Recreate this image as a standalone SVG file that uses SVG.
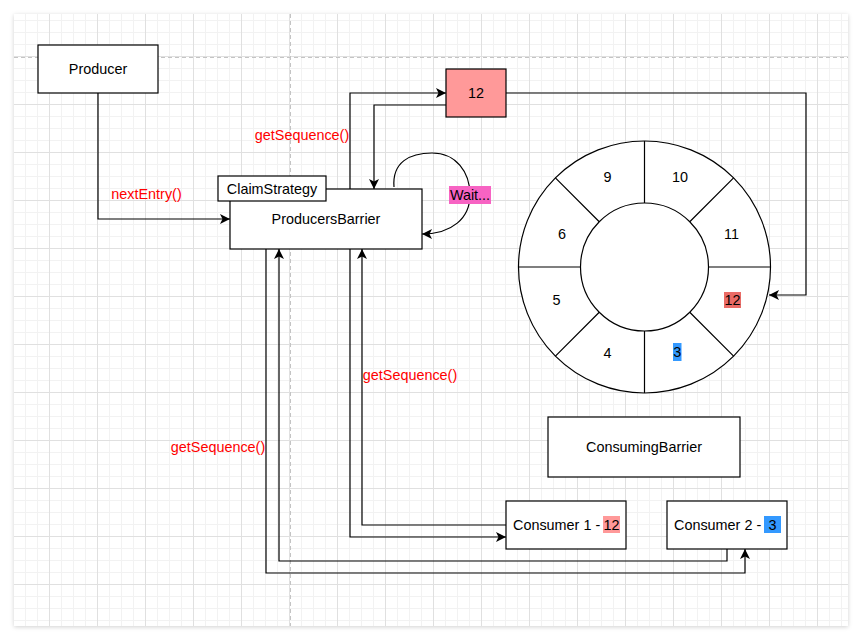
<svg xmlns="http://www.w3.org/2000/svg" width="862" height="640" viewBox="0 0 862 640">
  <style>
    .box { fill: #ffffff; stroke: #000000; stroke-width: 1.2; }
    .t { font-family: "Liberation Sans", Arial, Helvetica, sans-serif; font-size: 14.4px; fill: #000000; }
    .red { fill: #ff0000; }
    .edge { fill: none; stroke: #000000; stroke-width: 1.2; }
    .ring { fill: none; stroke: #000000; stroke-width: 1.2; }
  </style>
  <defs>
    <filter id="shadow" x="-5%" y="-5%" width="110%" height="110%">
      <feDropShadow dx="0" dy="1" stdDeviation="2" flood-color="#000000" flood-opacity="0.18"/>
    </filter>
    <pattern id="grid" patternUnits="userSpaceOnUse" x="1" y="8" width="48" height="48">
      <path d="M12.5,0 V48 M24.5,0 V48 M36.5,0 V48 M0,12.5 H48 M0,24.5 H48 M0,36.5 H48" stroke="#f2f2f2" stroke-width="1" fill="none"/>
      <path d="M0.5,0 V48 M0,0.5 H48" stroke="#e0e0e0" stroke-width="1" fill="none"/>
    </pattern>
    <marker id="arr" markerUnits="userSpaceOnUse" orient="auto" markerWidth="10" markerHeight="10" viewBox="0 0 10 10" refX="10" refY="5">
      <path d="M0,0 L10,5 L0,10 L2.5,5 Z" fill="#000000"/>
    </marker>
  </defs>

  <rect x="0" y="0" width="862" height="640" fill="#ffffff"/>
  <rect x="14" y="14" width="834" height="612" fill="#ffffff" filter="url(#shadow)"/>
  <rect x="14" y="14" width="834" height="612" fill="url(#grid)"/>
  <path d="M14,57.5 H848" stroke="#c4c4c4" stroke-width="1" stroke-dasharray="4 3"/>
  <path d="M290.5,14 V626" stroke="#c4c4c4" stroke-width="1" stroke-dasharray="4 3"/>

  <g id="connectors">
    <path class="edge" d="M98,93 V219 H230" marker-end="url(#arr)"/>
    <path class="edge" d="M350,189 V93 H446" marker-end="url(#arr)"/>
    <path class="edge" d="M446,105 H374 V189" marker-end="url(#arr)"/>
    <path class="edge" d="M394,187 C392,162 410,153 432,153 C456,153 470,172 470,195 C470,218 452,234 422,234" marker-end="url(#arr)"/>
    <path class="edge" d="M506,93 H806 V295 H769" marker-end="url(#arr)"/>
    <path class="edge" d="M506,525 H362 V249" marker-end="url(#arr)"/>
    <path class="edge" d="M350,249 V537 H506" marker-end="url(#arr)"/>
    <path class="edge" d="M727,549 V561 H279 V249" marker-end="url(#arr)"/>
    <path class="edge" d="M266,249 V573 H745 V549" marker-end="url(#arr)"/>
    <text class="t red" x="146.5" y="199" text-anchor="middle">nextEntry()</text>
    <text class="t red" x="302" y="140" text-anchor="middle">getSequence()</text>
    <text class="t red" x="410" y="380" text-anchor="middle">getSequence()</text>
    <text class="t red" x="218" y="452" text-anchor="middle">getSequence()</text>
    <rect x="449" y="186" width="42" height="18" fill="#f763c3"/>
    <text class="t" x="470" y="200" text-anchor="middle">Wait...</text>
  </g>

  <g id="producer">
    <rect class="box" x="38" y="45" width="120" height="48"/>
    <text class="t" x="98" y="74" text-anchor="middle">Producer</text>
  </g>

  <g id="producers-barrier">
    <rect class="box" x="230" y="189" width="192" height="60"/>
    <text class="t" x="326" y="224" text-anchor="middle">ProducersBarrier</text>
  </g>

  <g id="claim-strategy">
    <rect class="box" x="218" y="176" width="108" height="25"/>
    <text class="t" x="272" y="194" text-anchor="middle">ClaimStrategy</text>
  </g>

  <g id="entry-12">
    <rect class="box" x="446" y="69" width="60" height="48" style="fill:#ff9999"/>
    <text class="t" x="476" y="98" text-anchor="middle">12</text>
  </g>

  <g id="ring-buffer">
    <circle class="ring" cx="644.5" cy="267" r="126" style="fill:#ffffff"/>
    <circle class="ring" cx="644.5" cy="267" r="64"/>
    <path class="ring" d="M644.5,141 V203 M644.5,331 V393 M518.5,267 H580.5 M708.5,267 H770.5 M599.25,221.75 L555.4,177.9 M689.75,221.75 L733.6,177.9 M599.25,312.25 L555.4,356.1 M689.75,312.25 L733.6,356.1"/>
    <text class="t" x="607.5" y="182" text-anchor="middle">9</text>
    <text class="t" x="680" y="182" text-anchor="middle">10</text>
    <text class="t" x="562" y="238.5" text-anchor="middle">6</text>
    <text class="t" x="731.5" y="238.5" text-anchor="middle">11</text>
    <text class="t" x="556.5" y="304.5" text-anchor="middle">5</text>
    <rect x="724" y="292" width="17" height="16" fill="#ea6b66"/>
    <text class="t" x="732.5" y="305" text-anchor="middle">12</text>
    <text class="t" x="607.5" y="358" text-anchor="middle">4</text>
    <rect x="673" y="343" width="8.5" height="18" fill="#3399ff"/>
    <text class="t" x="677.3" y="357" text-anchor="middle">3</text>
  </g>

  <g id="consuming-barrier">
    <rect class="box" x="548" y="417" width="192" height="60"/>
    <text class="t" x="644" y="452" text-anchor="middle">ConsumingBarrier</text>
  </g>

  <g id="consumer-1">
    <rect class="box" x="506" y="501" width="120" height="48"/>
    <rect x="603" y="516" width="17" height="17" fill="#ff9999"/>
    <text class="t" x="513" y="530">Consumer 1 -</text>
    <text class="t" x="611.5" y="530" text-anchor="middle">12</text>
  </g>

  <g id="consumer-2">
    <rect class="box" x="667" y="501" width="120" height="48"/>
    <rect x="764" y="516" width="17" height="17" fill="#3399ff"/>
    <text class="t" x="674" y="530">Consumer 2 -</text>
    <text class="t" x="772.5" y="530" text-anchor="middle">3</text>
  </g>
</svg>
